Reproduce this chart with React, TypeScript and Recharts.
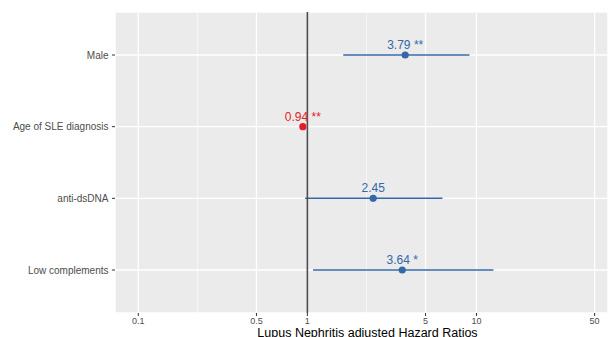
import React from "react";
import {
  ScatterChart,
  Scatter,
  XAxis,
  YAxis,
  CartesianGrid,
  ReferenceLine,
  ErrorBar,
  Label,
} from "recharts";

const categories = ["Male", "Age of SLE diagnosis", "anti-dsDNA", "Low complements"];
const hazardRatios = [3.79, 0.94, 2.45, 3.64];
const lowerCI = [1.63, 0.92, 0.97, 1.08];
const upperCI = [9.1, 0.96, 6.3, 12.6];
const stars = ["**", "**", "", "*"];
const xTicks = [0.1, 0.5, 1, 5, 10, 50];

const BLUE = "#3468A8";
const RED = "#E01F26";
const X_DOMAIN = [0.0728, 60];

// minor breaks sit halfway (in log space) between the major ones
const minorTicks = xTicks.slice(1).map((t, i) => Math.sqrt(t * xTicks[i])).concat([Math.sqrt(50 * 500)]);

const rows = categories.map((name, i) => ({
  name,
  row: i + 1,
  hr: hazardRatios[i],
  err: [hazardRatios[i] - lowerCI[i], upperCI[i] - hazardRatios[i]],
  label: stars[i] ? `${hazardRatios[i].toFixed(2)} ${stars[i]}` : hazardRatios[i].toFixed(2),
}));

const protective = rows.filter((r) => r.hr < 1);
const risk = rows.filter((r) => r.hr >= 1);

const makePoint = (color: string) => (props: any) => {
  const { cx, cy, payload } = props;
  return (
    <g>
      <circle cx={cx} cy={cy} r={3.6} fill={color} />
      <text x={cx} y={cy - 6} textAnchor="middle" fontSize={12} fill={color}>
        {payload.label}
      </text>
    </g>
  );
};

const YTick = (props: any) => {
  const { x, y, payload } = props;
  return (
    <text x={x} y={y} dy="0.355em" textAnchor="end" fontSize={10} fill="#4D4D4D">
      {categories[payload.value - 1]}
    </text>
  );
};

export default function App() {
  return (
    <div style={{ position: "absolute", left: 0, top: 0 }}>
      <ScatterChart
        width={608}
        height={337}
        margin={{ top: 12, right: 0, bottom: 0, left: 0 }}
        style={{ fontFamily: "'Liberation Sans', Arial, sans-serif" }}
      >
        <CartesianGrid fill="#EBEBEB" stroke="#FFFFFF" strokeWidth={1.3} />
        <CartesianGrid horizontal={false} xAxisId="minor" stroke="#FFFFFF" strokeWidth={0.6} />
        <XAxis
          type="number"
          dataKey="hr"
          scale="log"
          domain={X_DOMAIN}
          allowDataOverflow
          ticks={xTicks}
          tickFormatter={(v: number) => String(v)}
          axisLine={false}
          tickLine={{ stroke: "#333333" }}
          tickSize={3}
          tickMargin={1.5}
          height={24}
          tick={{ fontSize: 9, fill: "#4D4D4D" }}
        >
          <Label
            value="Lupus Nephritis adjusted Hazard Ratios"
            position="insideBottom"
            offset={0.5}
            dx={6}
            style={{ fontSize: 12.5, fill: "#000000" }}
          />
        </XAxis>
        <XAxis
          xAxisId="minor"
          type="number"
          dataKey="hr"
          scale="log"
          domain={X_DOMAIN}
          allowDataOverflow
          ticks={minorTicks}
          hide
        />
        <YAxis
          type="number"
          dataKey="row"
          domain={[0.4, 4.6]}
          reversed
          ticks={[1, 2, 3, 4]}
          axisLine={false}
          tickLine={{ stroke: "#333333" }}
          tickSize={3}
          tickMargin={3.5}
          width={115}
          tick={<YTick />}
        />
        <Scatter data={risk} fill={BLUE} shape={makePoint(BLUE)} isAnimationActive={false}>
          <ErrorBar dataKey="err" direction="x" width={0} stroke={BLUE} strokeWidth={1.5} />
        </Scatter>
        <Scatter data={protective} fill={RED} shape={makePoint(RED)} isAnimationActive={false}>
          <ErrorBar dataKey="err" direction="x" width={0} stroke={RED} strokeWidth={1.5} />
        </Scatter>
        <ReferenceLine x={1} stroke="#4D4D4D" strokeWidth={1.6} />
      </ScatterChart>
    </div>
  );
}
